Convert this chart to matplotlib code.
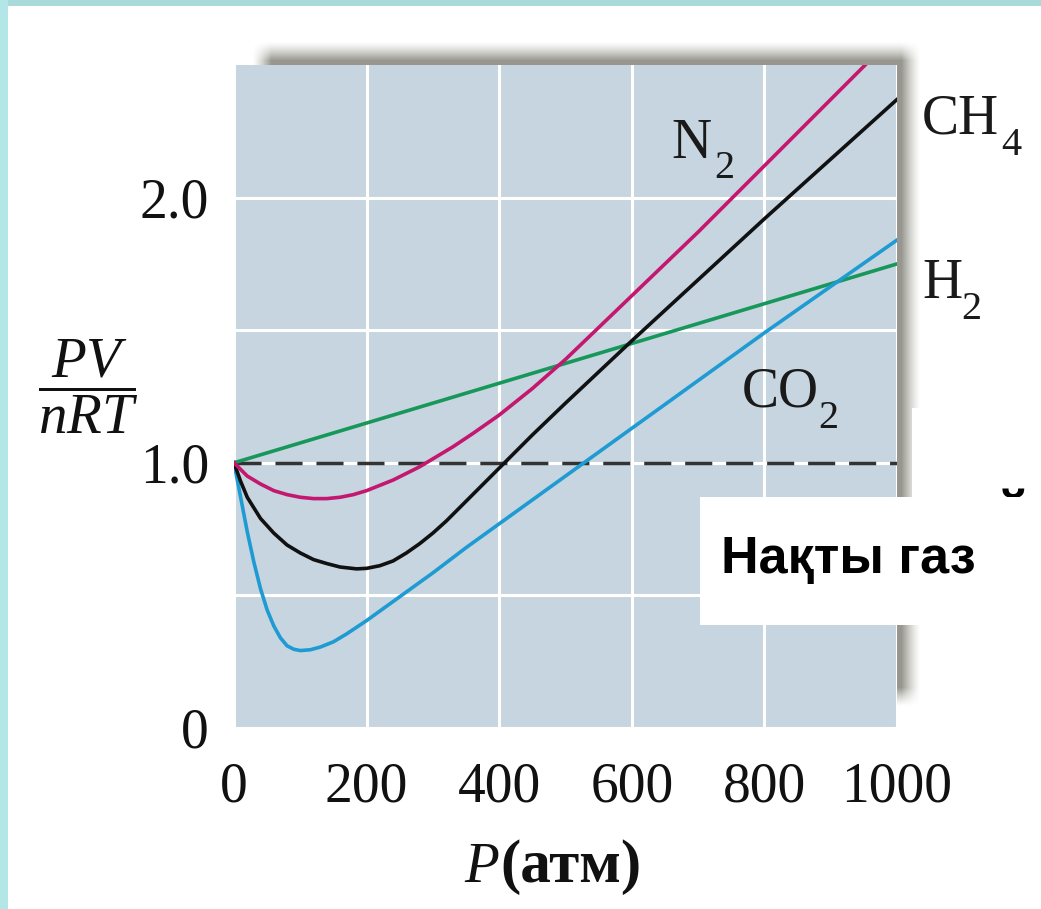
# -*- coding: utf-8 -*-
# Real gas: PV/nRT vs P for several gases

import numpy as np
import matplotlib
matplotlib.use('Agg')
import matplotlib.pyplot as plt
from matplotlib.patches import Rectangle

plt.rcParams['font.family'] = ['Liberation Serif', 'DejaVu Serif']
plt.rcParams['mathtext.fontset'] = 'custom'
plt.rcParams['mathtext.rm'] = 'Liberation Serif'
plt.rcParams['mathtext.it'] = 'Liberation Serif:italic'
plt.rcParams['mathtext.bf'] = 'Liberation Serif:bold'

# ---- data ----
p_h2 = [0, 200, 400, 600, 800, 1000]
z_h2 = [1.0, 1.15, 1.30, 1.45, 1.60, 1.75]

p_co2 = [0, 10, 20, 30, 40, 50, 60, 70, 80, 90, 100, 115, 130, 150, 170, 200,
         250, 300, 350, 400, 500, 600, 700, 800, 900, 1000]
z_co2 = [1.0, 0.87, 0.74, 0.625, 0.525, 0.445, 0.385, 0.34, 0.31, 0.297, 0.292,
         0.295, 0.305, 0.325, 0.355, 0.405, 0.495, 0.585, 0.68, 0.77, 0.95,
         1.13, 1.31, 1.49, 1.665, 1.84]

p_ch4 = [0, 10, 20, 40, 60, 80, 100, 120, 140, 160, 185, 200, 220, 240, 260,
         280, 300, 320, 340, 370, 400, 450, 500, 600, 700, 800, 900, 1000]
z_ch4 = [1.0, 0.93, 0.87, 0.79, 0.735, 0.69, 0.66, 0.635, 0.62, 0.607, 0.60,
         0.602, 0.612, 0.63, 0.66, 0.695, 0.735, 0.78, 0.83, 0.905, 0.98,
         1.105, 1.225, 1.46, 1.69, 1.92, 2.145, 2.37]

p_n2 = [0, 20, 40, 60, 80, 100, 120, 140, 160, 180, 200, 220, 240, 260, 280,
        300, 330, 360, 400, 450, 500, 550, 600, 650, 700, 750, 800, 850, 900,
        950, 1000]
z_n2 = [1.0, 0.95, 0.92, 0.895, 0.88, 0.87, 0.865, 0.865, 0.87, 0.88, 0.895,
        0.915, 0.935, 0.96, 0.985, 1.015, 1.06, 1.11, 1.18, 1.28, 1.39, 1.51,
        1.63, 1.75, 1.87, 1.995, 2.12, 2.245, 2.37, 2.495, 2.62]

p_ideal = [0, 1000]
z_ideal = [1.0, 1.0]

x_ticks = [0, 200, 400, 600, 800, 1000]
y_ticks = [0, 0.5, 1.0, 1.5, 2.0]
y_labels = ['0', '', '1.0', '', '2.0']

W, H = 1041, 909
fig = plt.figure(figsize=(W / 100, H / 100), dpi=100)


def fx(px):
    return px / W


def fy(py):
    return 1 - py / H


# soft drop shadow behind the plot
sx0, sx1, sy0, sy1, blur = 262, 911, 51, 697, 9.5
xx = np.arange(W) + 0.5
yy = np.arange(H) + 0.5
ramp_x = np.clip((xx - sx0 + blur) / (2 * blur), 0, 1) * np.clip((sx1 + blur - xx) / (2 * blur), 0, 1)
ramp_y = np.clip((yy - sy0 + blur) / (2 * blur), 0, 1) * np.clip((sy1 + blur - yy) / (2 * blur), 0, 1)
shadow = np.zeros((H, W, 4))
shadow[..., 0] = 0.40
shadow[..., 1] = 0.40
shadow[..., 2] = 0.36
shadow[..., 3] = 0.68 * np.outer(ramp_y, ramp_x) ** 1.3
fig.figimage(shadow, xo=0, yo=0, origin='upper', zorder=-1)

ax = fig.add_axes([fx(234), fy(728), fx(897 - 234), (728 - 65) / H])
ax.set_facecolor('#c6d5df')
for s in ax.spines.values():
    s.set_visible(False)

ax.plot(p_ideal, z_ideal, color='#333333', lw=2.5, dashes=(7.8, 4.0), zorder=2)
ax.plot(p_h2, z_h2, color='#17975a', lw=2.6, zorder=3)
ax.plot(p_co2, z_co2, color='#1e9bd2', lw=2.6, zorder=4)
ax.plot(p_ch4, z_ch4, color='#111111', lw=2.6, zorder=5)
ax.plot(p_n2, z_n2, color='#c4176f', lw=2.6, zorder=6)

ax.set_xlim(0, 1000)
ax.set_ylim(0, 2.5)
ax.set_xticks(x_ticks)
ax.set_yticks(y_ticks)
ax.set_yticklabels(y_labels)
ax.grid(True, color='white', lw=2.2)
ax.set_axisbelow(True)
ax.tick_params(length=0, labelsize=40, colors='#111111')
ax.tick_params(axis='x', pad=24)
ax.tick_params(axis='y', pad=18)

# curve labels: main letters plus a dropped subscript
lab = dict(fontsize=40, color='#1a1a1a', ha='left', va='baseline', clip_on=False)
sub = dict(fontsize=29, color='#1a1a1a', ha='left', va='baseline',
           textcoords='offset points', annotation_clip=False)
labels = [('N', '2', 659, 2.151, 31),
          ('CO', '2', 766, 1.211, 55),
          ('CH', '4', 1038, 2.24, 57),
          ('H', '2', 1038, 1.62, 28)]
for main, s, px, py, dx in labels:
    ax.text(px, py, main, **lab)
    ax.annotate(s, (px, py), xytext=(dx, -15), **sub)

# axis titles
fig.text(fx(88), fy(387), r'$\dfrac{PV}{nRT}$', fontsize=41, ha='center',
         va='center', color='#111111')
fig.text(fx(499), fy(882), 'P', fontsize=41, style='italic', ha='right',
         va='baseline', color='#111111')
fig.text(fx(500), fy(882), '(атм)', fontsize=44, weight='bold', ha='left',
         va='baseline', color='#111111')

# slide overlay: white boxes and caption
fig.add_artist(Rectangle((fx(912), fy(497)), fx(W - 912), (497 - 408) / H,
                         transform=fig.transFigure, color='white', lw=0, zorder=5))
fig.text(fx(1012), fy(530), 'й', fontsize=40, weight='bold', ha='center',
         va='baseline', family=['Liberation Sans', 'DejaVu Sans'], zorder=5.5)
fig.add_artist(Rectangle((fx(700), fy(625)), fx(W - 700), (625 - 497) / H,
                         transform=fig.transFigure, color='white', lw=0, zorder=6))
fig.text(fx(721), fy(573), 'Нақты газ', fontsize=37.5, weight='bold',
         family=['Liberation Sans', 'DejaVu Sans'], ha='left', va='baseline',
         color='black', zorder=7)

# cyan slide border
fig.add_artist(Rectangle((0, fy(6)), 1, 6 / H, transform=fig.transFigure,
                         color='#a9dada', lw=0, zorder=8))
fig.add_artist(Rectangle((0, 0), fx(8), 1, transform=fig.transFigure,
                         color='#b3e6e6', lw=0, zorder=8))

fig.savefig('out.png', dpi=100, facecolor='white')
